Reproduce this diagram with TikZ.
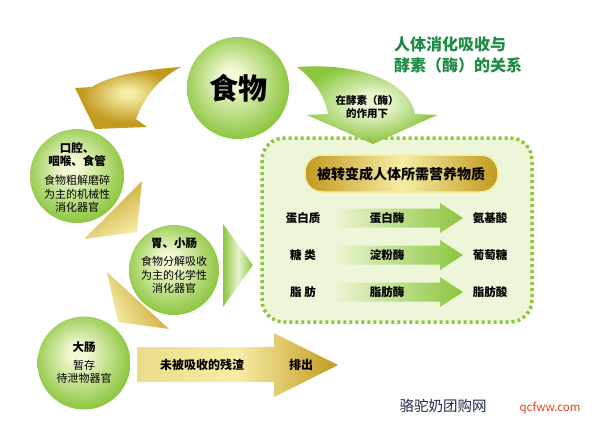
\documentclass[tikz,border=0pt]{standalone}
\usepackage{fontspec}
\setmainfont{Noto Sans CJK SC}
\definecolor{cL}{HTML}{F1F8D2}
\definecolor{cG}{HTML}{8CC63F}
\definecolor{boxG}{HTML}{8DC63F}
\definecolor{boxF}{HTML}{EEF6DA}
\definecolor{goldD}{HTML}{C29A1E}
\definecolor{goldL}{HTML}{F6EDA6}
\definecolor{aL}{HTML}{E8F4CF}
\definecolor{aG}{HTML}{8CC63F}
\definecolor{titleG}{HTML}{1E8B45}
\definecolor{navy}{HTML}{1F2A44}
\definecolor{redw}{HTML}{E8401C}
\pgfdeclareradialshading{gball}{\pgfpoint{-4bp}{6bp}}{color(0bp)=(cL); color(5bp)=(cL); color(27bp)=(cG); color(40bp)=(cG)}
\pgfdeclareradialshading{goldball}{\pgfpoint{0bp}{4bp}}{color(0bp)=(goldL); color(3bp)=(goldL); color(22bp)=(goldD); color(40bp)=(goldD)}
\pgfdeclareradialshading{leafball}{\pgfpoint{2bp}{0bp}}{color(0bp)=(aL); color(6bp)=(aL); color(24bp)=(aG); color(40bp)=(aG)}
\tikzset{
  ball/.style={circle, inner sep=0pt, minimum size=#1, shading=gball},
  lbl/.style={inner sep=0pt, font=\bfseries\fontsize{11.5}{13}\selectfont, align=center},
  small/.style={inner sep=0pt, font=\fontsize{11}{13.5}\selectfont, align=center},
  rowarrow/.style={left color=aL, right color=aG}
}
\begin{document}
\begin{tikzpicture}[x=1pt,y=-1pt]
\useasboundingbox[fill=white] (0,0) rectangle (599,426);

% dotted box
\draw[boxG, fill=boxF, line width=3.5pt, dash pattern=on 3pt off 3pt, rounded corners=22pt] (262,138) rectangle (532,322);

% title
\node[anchor=north west, inner sep=0pt, align=left, text=titleG, font=\bfseries\fontsize{16}{21}\selectfont] (title) at (394,37) {人体消化吸收与\\酵素（酶）的关系};

% green curved arrow from food
\shade[shading=leafball] (297,67) .. controls (365,62) and (410,85) .. (415,114) -- (437,115) -- (373,144) -- (307,115) -- (328,114) .. controls (325,95) and (312,78) .. (297,67) -- cycle;
\node[lbl, font=\bfseries\fontsize{10.5}{13}\selectfont] (under) at (367,107) {在酵素（酶）\\的作用下};

% gold curved arrow
\shade[shading=goldball] (181,67) .. controls (135,70) and (105,78) .. (92,87) -- (75,88) -- (95,129) -- (147,127) -- (136,119) .. controls (145,95) and (160,78) .. (181,67) -- cycle;

% gold triangles
\shade[left color=goldD, right color=goldL, shading angle=30] (142,181) -- (84,239) -- (137,232) -- cycle;
\shade[left color=goldD, right color=goldL, shading angle=-60] (107,272) -- (118,322) -- (169,329) -- cycle;

% green triangle
\shade[top color=aG, bottom color=aG, middle color=aL, shading angle=90] (223,224) -- (253,265) -- (223,307) -- cycle;

% bottom gold arrow
\shade[left color=goldL!80!goldD, right color=goldD, middle color=goldL] (137,347) -- (274,347) -- (274,333) -- (338,365) -- (274,397) -- (274,382) -- (137,382) -- cycle;
\node[lbl, font=\bfseries\fontsize{12}{14}\selectfont] (resid) at (202,365) {未被吸收的残渣};
\node[lbl, font=\bfseries\fontsize{12}{14}\selectfont] (out) at (301,365) {排出};

% circles
\node[ball=102pt] (food) at (238,88) {};
\node[inner sep=0pt, font=\bfseries\fontsize{29}{32}\selectfont] (foodt) at (238,88) {食物};

\node[ball=94pt] (mouth) at (77,176) {};
\node[lbl] (mouthA) at (77,155) {口腔、\\咽喉、食管};
\node[small] (mouthB) at (77,194) {食物粗解磨碎\\为主的机械性\\消化器官};

\node[ball=90pt] (stom) at (174,270) {};
\node[lbl] (stomA) at (174,243) {胃、小肠};
\node[small] (stomB) at (174,275) {食物分解吸收\\为主的化学性\\消化器官};

\node[ball=93pt] (colon) at (84,363) {};
\node[lbl] (colonA) at (84,347) {大肠};
\node[small] (colonB) at (84,372) {暂存\\待泄物器官};

% gold title box
\shade[left color=goldD, right color=goldD, middle color=goldL, rounded corners=17pt, draw=goldL, line width=1.5pt] (305,155) rectangle (498,192);
\node[inner sep=0pt, font=\bfseries\fontsize{14}{16}\selectfont] (need) at (401,174) {被转变成人体所需营养物质};

% rows
\foreach \y/\a/\b/\c [count=\i] in {218/蛋白质/蛋白酶/氨基酸, 255/糖 类/淀粉酶/葡萄糖, 292/脂 肪/脂肪酶/脂肪酸}{
  \shade[rowarrow] (337,\y-9.5) -- (440,\y-9.5) -- (440,\y-15) -- (463,\y) -- (440,\y+15) -- (440,\y+9.5) -- (337,\y+9.5) -- cycle;
  \node[lbl] (src\i) at (303,\y) {\a};
  \node[lbl] (enz\i) at (387,\y) {\b};
  \node[lbl] (prod\i) at (490,\y) {\c};
}

% watermark
\node[inner sep=0pt, text=navy, font=\fontsize{14.5}{16}\selectfont] (wm) at (443,406) {骆驼奶团购网};
\node[inner sep=0pt, text=redw, font=\fontsize{11.5}{13}\selectfont] (url) at (550,408) {qcfww.com};
\end{tikzpicture}
\end{document}
